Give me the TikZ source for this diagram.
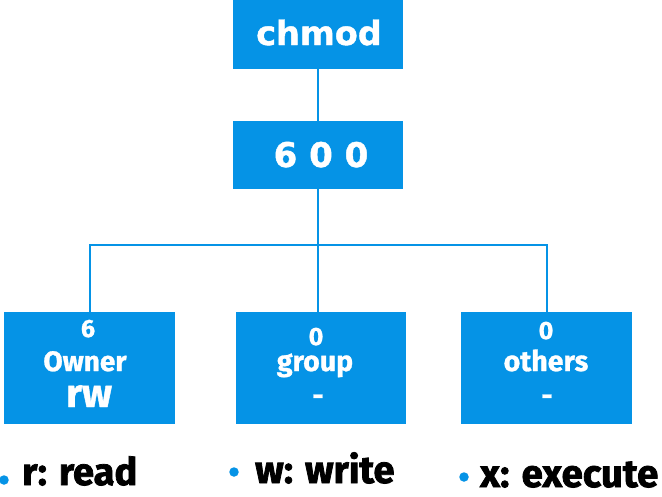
\documentclass[tikz,border=0pt]{standalone}
\usepackage{fontspec}
\setmainfont{Fira Sans}[BoldFeatures={FakeBold=1}]
\newfontfamily\legfont{Fira Sans}[BoldFeatures={FakeBold=2}]
\newfontfamily\djv{DejaVu Sans}[BoldFeatures={FakeBold=1.2}]
\definecolor{boxblue}{HTML}{0593E6}
\begin{document}
\begin{tikzpicture}[x=1pt,y=-1pt,
  bluebox/.style={draw=none,fill=boxblue,inner sep=0pt},
  wlabel/.style={text=white,inner sep=0pt,anchor=base,text height=19pt,text depth=0pt},
  conn/.style={draw=boxblue,line width=2pt},
  legtext/.style={font=\legfont\bfseries\fontsize{38}{38}\selectfont,text=black,inner sep=0pt,anchor=base west},
  legdot/.style={circle,fill=boxblue,inner sep=0pt,minimum size=9.5pt}]
\useasboundingbox (0,0) rectangle (662,496);
% boxes
\node[bluebox,minimum width=170pt,minimum height=69pt] (chmod) at (318,34.5) {};
\node[bluebox,minimum width=170pt,minimum height=68pt] (six) at (318,155) {};
\node[bluebox,minimum width=171pt,minimum height=112pt] (own) at (89.5,368) {};
\node[bluebox,minimum width=170pt,minimum height=112pt] (grp) at (321,368) {};
\node[bluebox,minimum width=171pt,minimum height=112pt] (oth) at (546.5,368) {};
% texts
\node[wlabel,font=\djv\bfseries\fontsize{33.5}{33.5}\selectfont,text height=26pt] (t1) at (319,45) {chmod};
\node[wlabel,font=\djv\bfseries\fontsize{34}{34}\selectfont,text height=26pt] (t2) at (321,167) {6 0 0};
\node[wlabel,font=\bfseries\fontsize{25}{25}\selectfont,text height=18pt] (o1) at (88,337) {6};
\node[wlabel,font=\bfseries\fontsize{28}{28}\selectfont] (o2) at (85,371) {Owner};
\node[wlabel,font=\bfseries\fontsize{40}{40}\selectfont,text height=22pt] (o3) at (89,407) {rw};
\node[wlabel,font=\bfseries\fontsize{25}{25}\selectfont,text height=18pt] (g1) at (316,345) {0};
\node[wlabel,font=\bfseries\fontsize{28.5}{28.5}\selectfont,text height=16pt,text depth=6pt] (g2) at (315,371) {group};
\node[wlabel,font=\bfseries\fontsize{28}{28}\selectfont,text height=10pt] (g3) at (318,405) {-};
\node[wlabel,font=\bfseries\fontsize{25}{25}\selectfont,text height=18pt] (h1) at (546,339) {0};
\node[wlabel,font=\bfseries\fontsize{28.5}{28.5}\selectfont] (h2) at (546,371) {others};
\node[wlabel,font=\bfseries\fontsize{28}{28}\selectfont,text height=10pt] (h3) at (547,405) {-};
% connectors
\coordinate (bar) at (318,245);
\draw[conn] (chmod.south) -- (six.north);
\draw[conn] (six.south) -- (bar) -- (bar |- grp.north);
\draw[conn] (own.north) |- (bar) -| (oth.north);
% legend
\node[legdot] (d1) at (4,480) {};
\node[legdot] (d2) at (234,472) {};
\node[legdot] (d3) at (464,477) {};
\node[legtext] (l1) at (22,485) {r: read};
\node[legtext] (l2) at (255,483) {w: write};
\node[legtext,font=\legfont\bfseries\fontsize{38.5}{38.5}\selectfont] (l3) at (480,487) {x: execute};
\end{tikzpicture}
\end{document}
